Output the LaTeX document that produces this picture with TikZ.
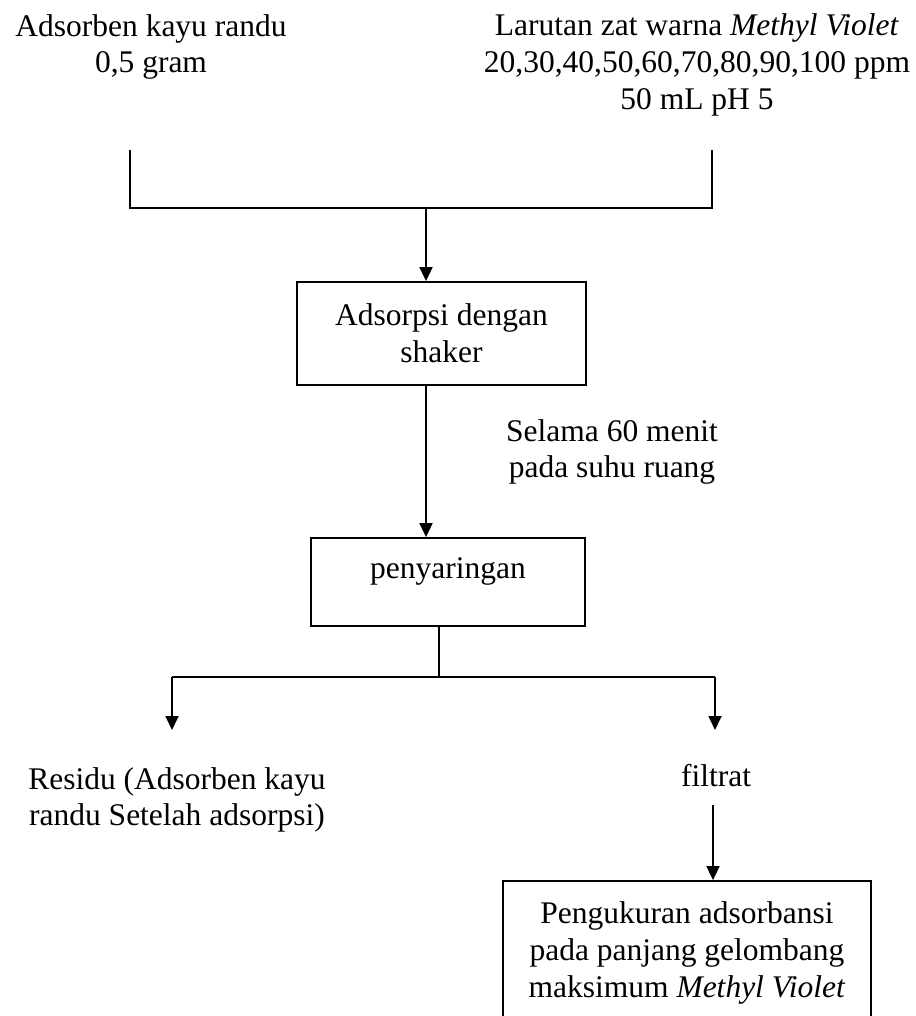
\documentclass[tikz,border=0pt]{standalone}
\usepackage{fontspec}
\setmainfont{Liberation Serif}
\usetikzlibrary{arrows.meta}
\begin{document}
\begin{tikzpicture}[x=1pt,y=-1pt,font=\fontsize{31.5}{36.8}\selectfont, line width=1.8pt, >={Triangle[length=14pt,width=13pt]}]
    \tikzstyle{plain text}=[align=center,inner sep=0]
    \tikzstyle{proc box}=[draw,align=center,inner sep=0]
    \useasboundingbox (0,0) rectangle (915,1016);

    % bahan awal
    \node(adsorben)[plain text] at (151,47){Adsorben kayu randu\\0,5 gram};
    \node(larutan)[plain text] at (697,65){Larutan zat warna \textit{Methyl Violet}\\20,30,40,50,60,70,80,90,100 ppm\\50 mL pH 5};
    \coordinate(tl) at (130,150);
    \coordinate(tr) at (712,150);
    \coordinate(bl) at (130,208);
    \coordinate(br) at (712,208);
    \coordinate(join) at (426,208);
    \draw (tl) -- (bl) -- (br) -- (tr);

    % proses
    \node(adsorpsi)[proc box,minimum width=289,minimum height=103] at (441.5,333.5){Adsorpsi dengan\\shaker};
    \node(selama)[plain text] at (612,452){Selama 60 menit\\ pada suhu ruang};
    \node(saring)[proc box,minimum width=274,minimum height=88,text depth=27pt] at (448,582){penyaringan};
    \draw[->] (join) -- (join |- adsorpsi.north);
    \draw[->] (adsorpsi.south -| join) -- (join |- saring.north);

    % hasil
    \coordinate(split) at (439,677);
    \coordinate(sl) at (172,677);
    \coordinate(sr) at (715,677);
    \coordinate(el) at (172,730);
    \coordinate(er) at (715,730);
    \draw (saring.south -| split) -- (split);
    \draw (sl) -- (sr);
    \draw[->] (sl) -- (el);
    \draw[->] (sr) -- (er);
    \node(residu)[plain text] at (177,800){Residu (Adsorben kayu\\randu Setelah adsorpsi)};
    \node(filtrat)[plain text] at (716,776){filtrat};
    \node(ukur)[proc box,minimum width=368,minimum height=144] at (687,953){Pengukuran adsorbansi\\pada panjang gelombang\\maksimum \textit{Methyl Violet}};
    \coordinate(fa) at (713,805);
    \draw[->] (fa) -- (fa |- ukur.north);
\end{tikzpicture}
\end{document}
